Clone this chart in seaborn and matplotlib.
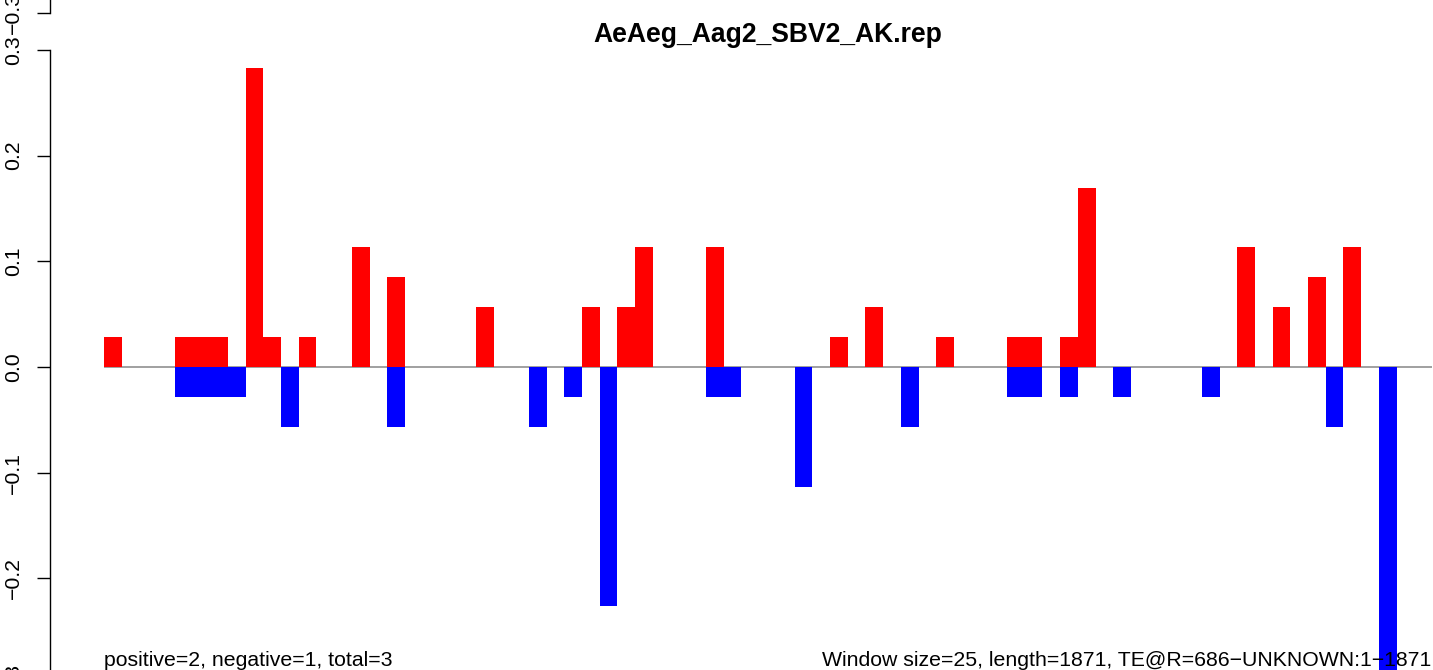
import numpy as np
import pandas as pd
import matplotlib
matplotlib.use("Agg")
import matplotlib.pyplot as plt
import seaborn as sns

# windows of 25 bp along a 1871 bp element -> 75 windows
windows = list(range(1, 76))

# positive strand (red) windows and values
pos_windows = [1, 5, 6, 7, 9, 10, 12, 15, 17, 22, 28, 30, 31, 35, 42, 44, 48,
               52, 53, 55, 56, 65, 67, 69, 71]
pos_values = [0.0283, 0.0283, 0.0283, 0.0283, 0.2830, 0.0283, 0.0283, 0.1132,
              0.0849, 0.0566, 0.0566, 0.0566, 0.1132, 0.1132, 0.0283, 0.0566,
              0.0283, 0.0283, 0.0283, 0.0283, 0.1698, 0.1132, 0.0566, 0.0849,
              0.1132]

# negative strand (blue) windows and values
neg_windows = [5, 6, 7, 8, 11, 17, 25, 27, 29, 35, 36, 40, 46, 52, 53, 55, 58,
               63, 70, 73]
neg_values = [-0.0283, -0.0283, -0.0283, -0.0283, -0.0566, -0.0566, -0.0566,
              -0.0283, -0.2264, -0.0283, -0.0283, -0.1132, -0.0566, -0.0283,
              -0.0283, -0.0283, -0.0283, -0.0283, -0.0566, -0.3110]

y_ticks = [-0.3, -0.2, -0.1, 0.0, 0.1, 0.2, 0.3]
title = "AeAeg_Aag2_SBV2_AK.rep"
left_note = "positive=2, negative=1, total=3"
right_note = "Window size=25, length=1871, TE@R=686\u2212UNKNOWN:1\u22121871"

sns.set_style("white")
plt.rcParams["font.family"] = ["Liberation Sans", "DejaVu Sans"]
plt.rcParams["text.color"] = "black"
plt.rcParams["ytick.color"] = "black"
plt.rcParams["axes.labelcolor"] = "black"

W, H = 1433, 670
fig = plt.figure(figsize=(W / 100, H / 100), dpi=100)

# pixel layout (y measured from the top of the image)
x_left, x_right = 104, 1432
y_zero, px_per_unit = 367, 1056.7
ylim = (-0.324, 0.324)


def panel_axes(zero_px):
    top = zero_px - ylim[1] * px_per_unit
    bottom = zero_px - ylim[0] * px_per_unit
    a = fig.add_axes([x_left / W, (H - bottom) / H,
                      (x_right - x_left) / W, (bottom - top) / H])
    a.set_facecolor("none")
    a.set_xlim(-0.5, len(windows) - 0.5)
    a.set_ylim(*ylim)
    for s in ["top", "right", "bottom"]:
        a.spines[s].set_visible(False)
    a.spines["left"].set_position(("outward", 39))
    a.spines["left"].set_bounds(-0.3, 0.3)
    a.spines["left"].set_linewidth(1.0)
    a.spines["left"].set_color("black")
    a.set_yticks(y_ticks)
    a.set_yticklabels([f"{v:.1f}".replace("-", "\u2212") for v in y_ticks],
                      rotation=90, va="center", fontsize=15.3, color="black")
    a.tick_params(axis="y", length=9.4, width=1.0, pad=10, left=True,
                  color="black")
    a.set_xticks([])
    return a


# bottom edge of the panel above (only its axis peeks in)
ax_above = panel_axes(13 - 0.3 * px_per_unit)

ax = panel_axes(y_zero)
ax.axhline(0, color="#a0a0a0", lw=1.4, zorder=0)

pos_df = pd.DataFrame({"window": pos_windows, "value": pos_values})
neg_df = pd.DataFrame({"window": neg_windows, "value": neg_values})

sns.barplot(data=pos_df, x="window", y="value", order=windows, color="red",
            saturation=1, width=1.0, linewidth=0, errorbar=None, ax=ax)
sns.barplot(data=neg_df, x="window", y="value", order=windows, color="blue",
            saturation=1, width=1.0, linewidth=0, errorbar=None, ax=ax)
ax.set_xlim(-0.5, len(windows) - 0.5)
ax.set_ylim(*ylim)
ax.set_xticks([])
ax.set_xlabel("")
ax.set_ylabel("")

fig.text((x_left + x_right) / 2 / W, (H - 42) / H, title, ha="center",
         va="baseline", fontsize=19.1, fontweight="bold", color="black")
fig.text(x_left / W, (H - 666) / H, left_note, ha="left", va="baseline",
         fontsize=15.3, color="black")
fig.text(1431 / W, (H - 666) / H, right_note, ha="right", va="baseline",
         fontsize=15.3, color="black")

fig.savefig("out.png", dpi=100)
